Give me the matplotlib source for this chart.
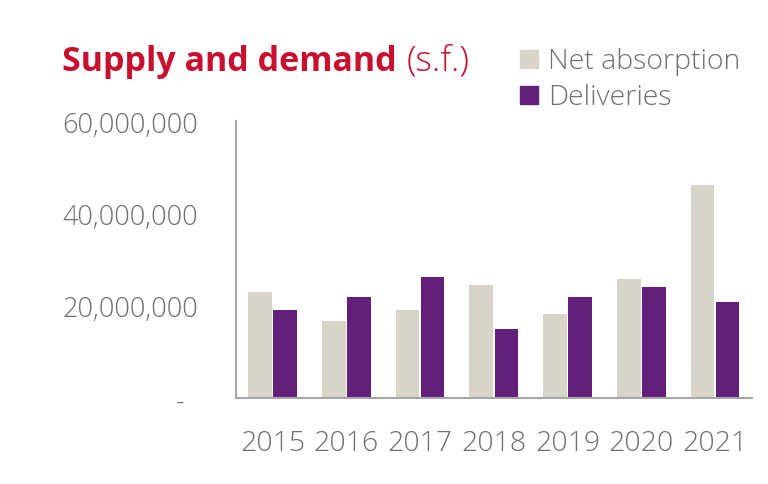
import matplotlib
matplotlib.use("Agg")
import matplotlib.pyplot as plt
import numpy as np
from matplotlib.ticker import FuncFormatter
from matplotlib.patches import Rectangle

years = ["2015", "2016", "2017", "2018", "2019", "2020", "2021"]
net_absorption = [23.1e6, 16.7e6, 19.1e6, 24.5e6, 18.2e6, 25.8e6, 46.2e6]
deliveries = [19.2e6, 21.9e6, 26.3e6, 15.0e6, 22.0e6, 24.1e6, 20.9e6]
yticks = [0, 20e6, 40e6, 60e6]

FONT = "Open Sans"
NET_C = "#d9d4c8"
DEL_C = "#63207a"
TXT_C = "#707070"
AX_C = "#a6a6a6"
RED = "#c8102e"

fig = plt.figure(figsize=(7.68, 4.85), dpi=100)
ax = fig.add_axes([0.307, 0.177, 0.672, 0.571])

x = np.arange(len(years))
w = 0.32
ax.bar(x - 0.17, net_absorption, w, color=NET_C)
ax.bar(x + 0.17, deliveries, w, color=DEL_C)

ax.set_xlim(-0.5, len(years) - 0.5)
ax.set_ylim(0, 60e6)
ax.set_yticks(yticks)
ax.yaxis.set_major_formatter(FuncFormatter(lambda v, p: "-  " if v == 0 else f"{int(v):,}"))
ax.set_xticks(x)
ax.set_xticklabels(years)
for s in ["top", "right"]:
    ax.spines[s].set_visible(False)
for s in ["left", "bottom"]:
    ax.spines[s].set_color(AX_C)
    ax.spines[s].set_linewidth(1.5)
ax.tick_params(axis="both", length=0, colors=TXT_C)
ax.tick_params(axis="y", pad=27, labelsize=19.5)
ax.tick_params(axis="x", pad=22, labelsize=20.5)
for lab in ax.get_xticklabels() + ax.get_yticklabels():
    lab.set_fontfamily(FONT)
    lab.set_fontweight(300)

t = fig.text(62/768, 1 - 71/485, "Supply and demand", color=RED, fontsize=24.5,
             fontweight=700, family=FONT, va="baseline", ha="left")
fig.canvas.draw()
bb = t.get_window_extent()
fig.text((bb.x1 + 10) / 768, 1 - 71/485, "(s.f.)", color=RED, fontsize=25.5,
         fontweight=300, family=FONT, va="baseline", ha="left")

for i, (lab, c) in enumerate([("Net absorption", NET_C), ("Deliveries", DEL_C)]):
    base = 69 + i * 36
    fig.patches.append(Rectangle((520/768, 1 - base/485), 18/768, 18/485,
                                 transform=fig.transFigure, color=c))
    fig.text(548/768, 1 - base/485, lab, color=TXT_C, fontsize=20.5, fontweight=300,
             family=FONT, va="baseline", ha="left")

fig.savefig("out.png", dpi=100)
